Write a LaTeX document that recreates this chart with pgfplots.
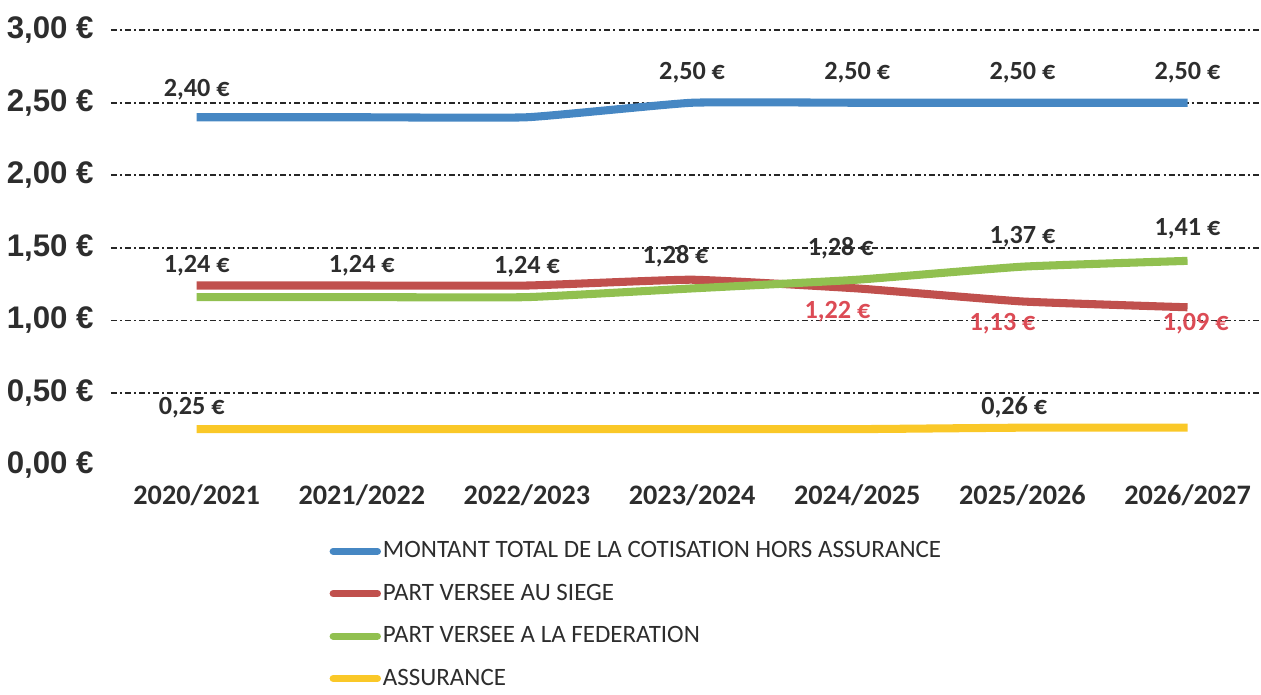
\documentclass[border=0pt]{standalone}
\usepackage{fontspec}
\setmainfont{Carlito}
\newfontfamily\tickfont{Liberation Sans}
\usepackage{pgfplots}
\pgfplotsset{compat=1.18}
\definecolor{cblue}{RGB}{70,135,195}
\definecolor{cred}{RGB}{192,80,77}
\definecolor{cgreen}{RGB}{145,192,80}
\definecolor{cyellow}{RGB}{250,200,40}
\definecolor{lblred}{RGB}{220,75,85}
\definecolor{txt}{RGB}{45,45,45}

\begin{document}
\begin{tikzpicture}
\begin{axis}[
  scale only axis,
  width=570.5pt, height=216pt,
  xmin=-0.52, xmax=6.44,
  ymin=0, ymax=3,
  axis line style={draw=none},
  major tick style={draw=none},
  xtick={0,1,2,3,4,5,6},
  xticklabels={2020/2021,2021/2022,2022/2023,2023/2024,2024/2025,2025/2026,2026/2027},
  xticklabel style={font=\fontsize{14}{16}\selectfont\bfseries, text=txt, yshift=-6pt},
  ytick={0,0.5,1,1.5,2,2.5,3},
  yticklabels={{0,00 €},{0,50 €},{1,00 €},{1,50 €},{2,00 €},{2,50 €},{3,00 €}},
  yticklabel style={font=\tickfont\fontsize{15.5}{17}\selectfont\bfseries, text=txt, xshift=-5pt},
  extra y ticks={0.5,1,1.5,2,2.5,3},
  extra y tick labels={},
  extra y tick style={grid=major, major tick style={draw=none}},
  grid style={line width=0.8pt, draw=black!85, dash pattern=on 3pt off 1.5pt on 1pt off 1.5pt},
  legend style={at={(0.19,-0.165)}, anchor=north west, draw=none, fill=none,
    font=\fontsize{12.4}{15}\selectfont, text=txt, row sep=7.5pt, inner sep=0pt,
    nodes={inner xsep=1pt}},
  legend cell align=left,
  legend image code/.code={\draw[line width=3.5pt, line cap=round] (0pt,0pt) -- (22pt,0pt);},
  every axis plot/.append style={line width=4pt, smooth, tension=0.25},
  clip=false,
]
\addplot[cblue] coordinates {(0,2.40)(1,2.40)(2,2.40)(3,2.50)(4,2.50)(5,2.50)(6,2.50)};
\addlegendentry{MONTANT TOTAL DE LA COTISATION HORS ASSURANCE}
\addplot[cred] coordinates {(0,1.24)(1,1.24)(2,1.24)(3,1.28)(4,1.22)(5,1.13)(6,1.09)};
\addlegendentry{PART VERSEE AU SIEGE}
\addplot[cgreen] coordinates {(0,1.16)(1,1.16)(2,1.16)(3,1.22)(4,1.28)(5,1.37)(6,1.41)};
\addlegendentry{PART VERSEE A LA FEDERATION}
\addplot[cyellow] coordinates {(0,0.25)(1,0.25)(2,0.25)(3,0.25)(4,0.25)(5,0.26)(6,0.26)};
\addlegendentry{ASSURANCE}

\tikzset{lbl/.style={font=\fontsize{13}{15}\selectfont\bfseries, text=txt}}
\node[lbl] at (axis cs:0,2.59) {2,40 €};
\node[lbl] at (axis cs:3,2.71) {2,50 €};
\node[lbl] at (axis cs:4,2.71) {2,50 €};
\node[lbl] at (axis cs:5,2.71) {2,50 €};
\node[lbl] at (axis cs:6,2.71) {2,50 €};
\node[lbl] at (axis cs:0,1.38) {1,24 €};
\node[lbl] at (axis cs:1,1.38) {1,24 €};
\node[lbl] at (axis cs:2,1.37) {1,24 €};
\node[lbl] at (axis cs:2.9,1.44) {1,28 €};
\node[lbl, text=lblred] at (axis cs:3.88,1.06) {1,22 €};
\node[lbl, text=lblred] at (axis cs:4.88,0.98) {1,13 €};
\node[lbl, text=lblred] at (axis cs:6.05,0.98) {1,09 €};
\node[lbl] at (axis cs:3.9,1.50) {1,28 €};
\node[lbl] at (axis cs:5.0,1.58) {1,37 €};
\node[lbl] at (axis cs:6.0,1.63) {1,41 €};
\node[lbl] at (axis cs:-0.03,0.40) {0,25 €};
\node[lbl] at (axis cs:4.95,0.40) {0,26 €};
\end{axis}
\path (-55pt,-113.5pt) rectangle (570.5pt,231pt);
\end{tikzpicture}
\end{document}
